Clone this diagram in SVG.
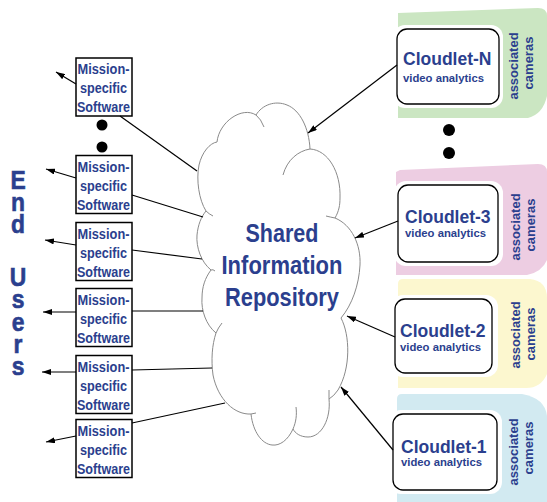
<svg xmlns="http://www.w3.org/2000/svg" width="547" height="502" viewBox="0 0 547 502">
<style>
.t{font-family:"Liberation Sans",Arial,sans-serif;font-weight:bold;fill:#2b3f8e}
.ms{font-size:14.5px;text-anchor:middle}
.cl{font-size:17.5px}
.va{font-size:11.3px}
.ac{font-size:13px;text-anchor:middle}
.eu{font-size:26px;text-anchor:middle;stroke:#2b3f8e;stroke-width:0.6}
.sir{font-size:26px;text-anchor:middle}
.box{fill:#fff;stroke:#000;stroke-width:1.5}
.cbox{fill:#fff;stroke:#000;stroke-width:1.3}
.gap{fill:#fff}
.conn{stroke:#000;stroke-width:1.2;fill:none}
.cloud{fill:#fff;stroke:#8a8a8a;stroke-width:1}
.curl{fill:none;stroke:#8a8a8a;stroke-width:1}
.dot{fill:#000}
</style>
<defs>
<marker id="ah" markerUnits="userSpaceOnUse" markerWidth="10" markerHeight="6" refX="9" refY="3" orient="auto">
<path d="M0,0 L9,3 L0,6 Z" fill="#000"/>
</marker>
</defs>
<rect width="547" height="502" fill="#fff"/>

<g id="end-users">
<g transform="translate(18,0) scale(0.88,1)">
<text class="t eu"><tspan x="0" y="189">E</tspan><tspan x="0" y="211">n</tspan><tspan x="0" y="233">d</tspan><tspan x="0" y="286">U</tspan><tspan x="0" y="308">s</tspan><tspan x="0" y="331">e</tspan><tspan x="0" y="353">r</tspan><tspan x="0" y="375">s</tspan></text>
</g>
</g>

<g id="cloud">
<path class="cloud" d="M217,142 C219,122 242,106 256,115 C262,105 275,100 287,105 C300,110 309,128 310,149 C328,150 341,172 340,198 C340,205 339,211 335,218 C352,225 361,245 360,265 C359,285 352,305 341,318 C350,335 351,368 338,390 Q334,396 329,399 C331,418 322,437 308,437 C300,437 295,433 293,429 C288,440 280,446 272,445 C262,444 253,432 251,414 C235,415 218,400 213,375 C211,360 212,345 216,333 C206,325 201,310 202,298 C202,287 205,278 211,270 C201,262 196,247 197,235 C198,225 201,217 206,211 C199,200 196,180 199,165 C202,152 210,143 217,142 Z"/>
<path class="curl" d="M256,115 Q261,119 264,127"/>
<path class="curl" d="M283,175 C287,160 298,151 310,149"/>
<path class="curl" d="M326,216 Q330,217 335,218"/>
<path class="curl" d="M329,390 L329,399"/>
<path class="curl" d="M296,407 C297,415 296,422 293,429"/>
<path class="curl" d="M256,413 L251,414"/>
<path class="curl" d="M222,323 Q218,328 216,333"/>
<path class="curl" d="M211,270 Q213,269 215,271"/>
<path class="curl" d="M206,211 Q209,214 213,216"/>
<text class="t sir" x="282" y="242" textLength="73" lengthAdjust="spacingAndGlyphs">Shared</text>
<text class="t sir" x="282" y="274" textLength="121" lengthAdjust="spacingAndGlyphs">Information</text>
<text class="t sir" x="282" y="306" textLength="114" lengthAdjust="spacingAndGlyphs">Repository</text>
</g>

<g id="ms1">
<rect class="box" x="76" y="58" width="56" height="58"/>
<text class="t ms" x="103.5" y="73.5" textLength="52" lengthAdjust="spacingAndGlyphs">Mission-</text>
<text class="t ms" x="103.5" y="93" textLength="47" lengthAdjust="spacingAndGlyphs">specific</text>
<text class="t ms" x="103.5" y="112" textLength="53" lengthAdjust="spacingAndGlyphs">Software</text>
</g>
<g id="ms-dots">
<circle class="dot" cx="102" cy="125" r="5.5"/>
<circle class="dot" cx="102" cy="147" r="5.5"/>
</g>
<g id="ms2">
<rect class="box" x="76" y="155.5" width="56" height="58"/>
<text class="t ms" x="103.5" y="171.5" textLength="52" lengthAdjust="spacingAndGlyphs">Mission-</text>
<text class="t ms" x="103.5" y="191" textLength="47" lengthAdjust="spacingAndGlyphs">specific</text>
<text class="t ms" x="103.5" y="210" textLength="53" lengthAdjust="spacingAndGlyphs">Software</text>
</g>
<g id="ms3">
<rect class="box" x="76" y="222.5" width="56" height="58"/>
<text class="t ms" x="103.5" y="238.5" textLength="52" lengthAdjust="spacingAndGlyphs">Mission-</text>
<text class="t ms" x="103.5" y="258" textLength="47" lengthAdjust="spacingAndGlyphs">specific</text>
<text class="t ms" x="103.5" y="277" textLength="53" lengthAdjust="spacingAndGlyphs">Software</text>
</g>
<g id="ms4">
<rect class="box" x="76" y="288.5" width="56" height="58"/>
<text class="t ms" x="103.5" y="304.5" textLength="52" lengthAdjust="spacingAndGlyphs">Mission-</text>
<text class="t ms" x="103.5" y="324" textLength="47" lengthAdjust="spacingAndGlyphs">specific</text>
<text class="t ms" x="103.5" y="343" textLength="53" lengthAdjust="spacingAndGlyphs">Software</text>
</g>
<g id="ms5">
<rect class="box" x="76" y="355.5" width="56" height="58"/>
<text class="t ms" x="103.5" y="371.5" textLength="52" lengthAdjust="spacingAndGlyphs">Mission-</text>
<text class="t ms" x="103.5" y="391" textLength="47" lengthAdjust="spacingAndGlyphs">specific</text>
<text class="t ms" x="103.5" y="410" textLength="53" lengthAdjust="spacingAndGlyphs">Software</text>
</g>
<g id="ms6">
<rect class="box" x="76" y="419.5" width="56" height="58"/>
<text class="t ms" x="103.5" y="435.5" textLength="52" lengthAdjust="spacingAndGlyphs">Mission-</text>
<text class="t ms" x="103.5" y="455" textLength="47" lengthAdjust="spacingAndGlyphs">specific</text>
<text class="t ms" x="103.5" y="474" textLength="53" lengthAdjust="spacingAndGlyphs">Software</text>
</g>

<g id="cloudlet-n">
<path d="M398,13 L538,8 Q547,8 547,16 L547,96 Q543,114 528,118 L398,118 Z" fill="#cbe6c2"/>
<rect class="gap" x="393" y="25" width="110" height="83" rx="12"/>
<rect class="cbox" x="397" y="29" width="102" height="75" rx="10"/>
<text class="t cl" x="403" y="65">Cloudlet-N</text>
<text class="t va" x="403" y="81.5">video analytics</text>
<text class="t ac" transform="translate(518,66) rotate(-90)">associated</text>
<text class="t ac" transform="translate(533,63) rotate(-90)">cameras</text>
</g>
<g id="cloudlet-dots">
<circle class="dot" cx="449" cy="130" r="6"/>
<circle class="dot" cx="449" cy="153" r="6"/>
</g>
<g id="cloudlet-3">
<path d="M400,170 L538,164 Q547,164 547,172 L547,260 Q542,272 527,275 L396,275 L396,172 Z" fill="#edcde2"/>
<rect class="gap" x="394" y="181" width="109" height="85" rx="12"/>
<rect class="cbox" x="398" y="185" width="100" height="77" rx="10"/>
<text class="t cl" x="405" y="223">Cloudlet-3</text>
<text class="t va" x="405" y="237">video analytics</text>
<text class="t ac" transform="translate(520,227) rotate(-90)">associated</text>
<text class="t ac" transform="translate(535,225) rotate(-90)">cameras</text>
</g>
<g id="cloudlet-2">
<path d="M398,284 Q398,279 403,279 L530,279 Q547,281 547,298 L547,374 Q541,388 526,388 L398,388 Z" fill="#fcf7cf"/>
<rect class="gap" x="391" y="295" width="107" height="82" rx="12"/>
<rect class="cbox" x="395" y="299" width="97" height="74" rx="10"/>
<text class="t cl" x="400" y="337">Cloudlet-2</text>
<text class="t va" x="400" y="351">video analytics</text>
<text class="t ac" transform="translate(520,335) rotate(-90)">associated</text>
<text class="t ac" transform="translate(535,334) rotate(-90)">cameras</text>
</g>
<g id="cloudlet-1">
<path d="M397,399 Q397,394 402,394 L522,394 Q545,398 547,416 L547,502 L397,502 Z" fill="#d2eaf1"/>
<rect class="gap" x="389" y="410" width="113" height="84" rx="12"/>
<rect class="cbox" x="393" y="414" width="104" height="76" rx="10"/>
<text class="t cl" x="401" y="453">Cloudlet-1</text>
<text class="t va" x="401" y="466">video analytics</text>
<text class="t ac" transform="translate(518,452) rotate(-90)">associated</text>
<text class="t ac" transform="translate(533,448) rotate(-90)">cameras</text>
</g>

<g id="connectors">
<line class="conn" x1="120" y1="116" x2="197" y2="171"/>
<line class="conn" x1="132" y1="195" x2="203" y2="217"/>
<line class="conn" x1="132" y1="250" x2="202" y2="259"/>
<line class="conn" x1="132" y1="311" x2="203" y2="311"/>
<line class="conn" x1="132" y1="370" x2="212" y2="368"/>
<line class="conn" x1="132" y1="423" x2="225" y2="403"/>
<line class="conn" x1="76" y1="84" x2="56" y2="72" marker-end="url(#ah)"/>
<line class="conn" x1="76" y1="178" x2="46" y2="169" marker-end="url(#ah)"/>
<line class="conn" x1="76" y1="245" x2="45" y2="240" marker-end="url(#ah)"/>
<line class="conn" x1="76" y1="312" x2="43" y2="312" marker-end="url(#ah)"/>
<line class="conn" x1="76" y1="372" x2="42" y2="372" marker-end="url(#ah)"/>
<line class="conn" x1="76" y1="436" x2="46" y2="442" marker-end="url(#ah)"/>
<line class="conn" x1="397" y1="65" x2="308" y2="133" marker-end="url(#ah)"/>
<line class="conn" x1="398" y1="221" x2="355" y2="238" marker-end="url(#ah)"/>
<line class="conn" x1="395" y1="337" x2="347" y2="316" marker-end="url(#ah)"/>
<line class="conn" x1="393" y1="450" x2="341" y2="387" marker-end="url(#ah)"/>
</g>
</svg>
